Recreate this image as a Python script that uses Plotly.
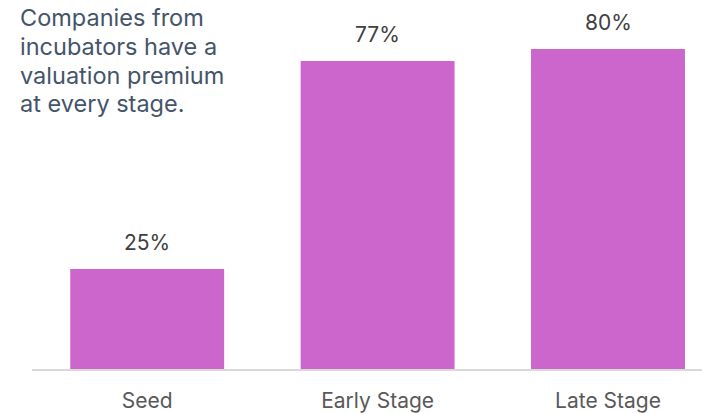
import plotly.graph_objects as go

categories = ["Seed", "Early Stage", "Late Stage"]
premium = [25, 77, 80]
labels = ["25%", "77%", "80%"]
note_lines = ["Companies from", "incubators have a", "valuation premium", "at every stage."]

FONT = "Inter"
fig = go.Figure()
fig.add_trace(go.Bar(x=categories, y=premium, marker=dict(color="#CC66CC", line=dict(width=0)),
                     hoverinfo="skip"))

for c, v, t in zip(categories, premium, labels):
    fig.add_annotation(x=c, y=v, text=t, showarrow=False, yanchor="bottom", yshift=12,
                       font=dict(family=FONT, size=21, color="#404040"))

for i, line in enumerate(note_lines):
    fig.add_annotation(xref="paper", yref="paper", x=-14/670, y=1 - (17 + 29*i)/369,
                       xanchor="left", yanchor="middle", text=line, showarrow=False,
                       font=dict(family=FONT, size=23.5, color="#44546A"))

fig.update_layout(
    width=702, height=413,
    margin=dict(l=32, r=0, t=0, b=44),
    paper_bgcolor="white", plot_bgcolor="white",
    bargap=0.332, showlegend=False,
    xaxis=dict(range=[-0.5, 2.408], showline=True, linecolor="#D9D9D9", linewidth=2,
               ticks="", showgrid=False, ticklabelstandoff=12,
               tickfont=dict(family=FONT, size=21, color="#595959")),
    yaxis=dict(range=[0, 92.25], visible=False, showgrid=False, zeroline=False),
)
fig.write_html("out.html")
